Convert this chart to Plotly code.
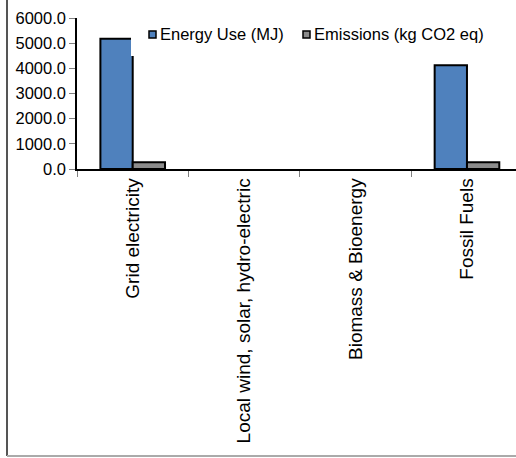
import plotly.graph_objects as go

# Data
categories = ["Grid electricity", "Local wind, solar, hydro-electric",
              "Biomass & Bioenergy", "Fossil Fuels"]
energy_use = [5180, 0, 0, 4120]      # MJ
emissions = [270, 0, 0, 270]         # kg CO2 eq

blue = "#4F81BD"
grey = "#8C8C8C"
font = "Liberation Sans, Arial, sans-serif"

# plot area in pixels, used to place the hand-made legend and border
W, H = 516, 458
L, R, T, B = 77, 0, 18, 289
pw, ph = W - L - R, H - T - B


def px_x(x):
    return (x - L) / pw


def px_y(y):
    return (H - B - y) / ph


def outline(values):
    # Excel draws no outline for empty bars
    return [2 if v else 0 for v in values]


fig = go.Figure()
fig.add_trace(go.Bar(x=categories, y=energy_use, name="Energy Use (MJ)",
                     marker=dict(color=blue, line=dict(color="black", width=outline(energy_use)))))
fig.add_trace(go.Bar(x=categories, y=emissions, name="Emissions (kg CO2 eq)",
                     marker=dict(color=grey, line=dict(color="black", width=outline(emissions)))))

fig.update_layout(
    width=W, height=H,
    margin=dict(l=L, r=R, t=T, b=B),
    paper_bgcolor="white", plot_bgcolor="white",
    font=dict(family=font, size=16, color="black"),
    barmode="group", bargap=0.42, bargroupgap=0,
    showlegend=False,
)

fig.update_xaxes(range=[-0.5, 3.44], showline=True, linecolor="black", linewidth=1.5,
                 ticks="outside", tickson="boundaries", ticklen=6, tickcolor="#808080",
                 tickangle=-90, showgrid=False, tickfont=dict(size=19), automargin=False)
fig.update_yaxes(range=[0, 6000], dtick=1000, tickformat=".1f", showline=True,
                 linecolor="black", linewidth=1.5, ticks="outside", ticklen=6,
                 tickcolor="#808080", showgrid=False, zeroline=False,
                 tickfont=dict(size=16.5), automargin=False)

# legend box (white, sits over the first bar like in Excel)
fig.add_shape(type="rect", xref="paper", yref="paper", layer="above",
              x0=px_x(131), x1=px_x(492), y0=px_y(56), y1=px_y(20),
              fillcolor="white", line=dict(width=0))
for name, color, sx, tx in [(fig.data[0].name, blue, 149, 158), (fig.data[1].name, grey, 303, 312)]:
    fig.add_shape(type="rect", xref="paper", yref="paper", layer="above",
                  x0=px_x(sx), x1=px_x(sx + 7), y0=px_y(38), y1=px_y(31),
                  fillcolor=color, line=dict(color="black", width=1.5))
    fig.add_annotation(text=name, xref="paper", yref="paper", x=px_x(tx), y=px_y(34),
                       xanchor="left", yanchor="middle", showarrow=False,
                       font=dict(size=16.5))

# outer chart border (left and bottom edges visible)
fig.add_shape(type="line", xref="paper", yref="paper", x0=px_x(7), x1=px_x(7),
              y0=px_y(0), y1=px_y(456), line=dict(color="#555555", width=2))
fig.add_shape(type="line", xref="paper", yref="paper", x0=px_x(7), x1=px_x(516),
              y0=px_y(456), y1=px_y(456), line=dict(color="#AAAAAA", width=2))

# the page's default body margin would shift the chart by 8px
fig.write_html("out.html", config={"displayModeBar": False},
               post_script="document.body.style.margin = '0';")
